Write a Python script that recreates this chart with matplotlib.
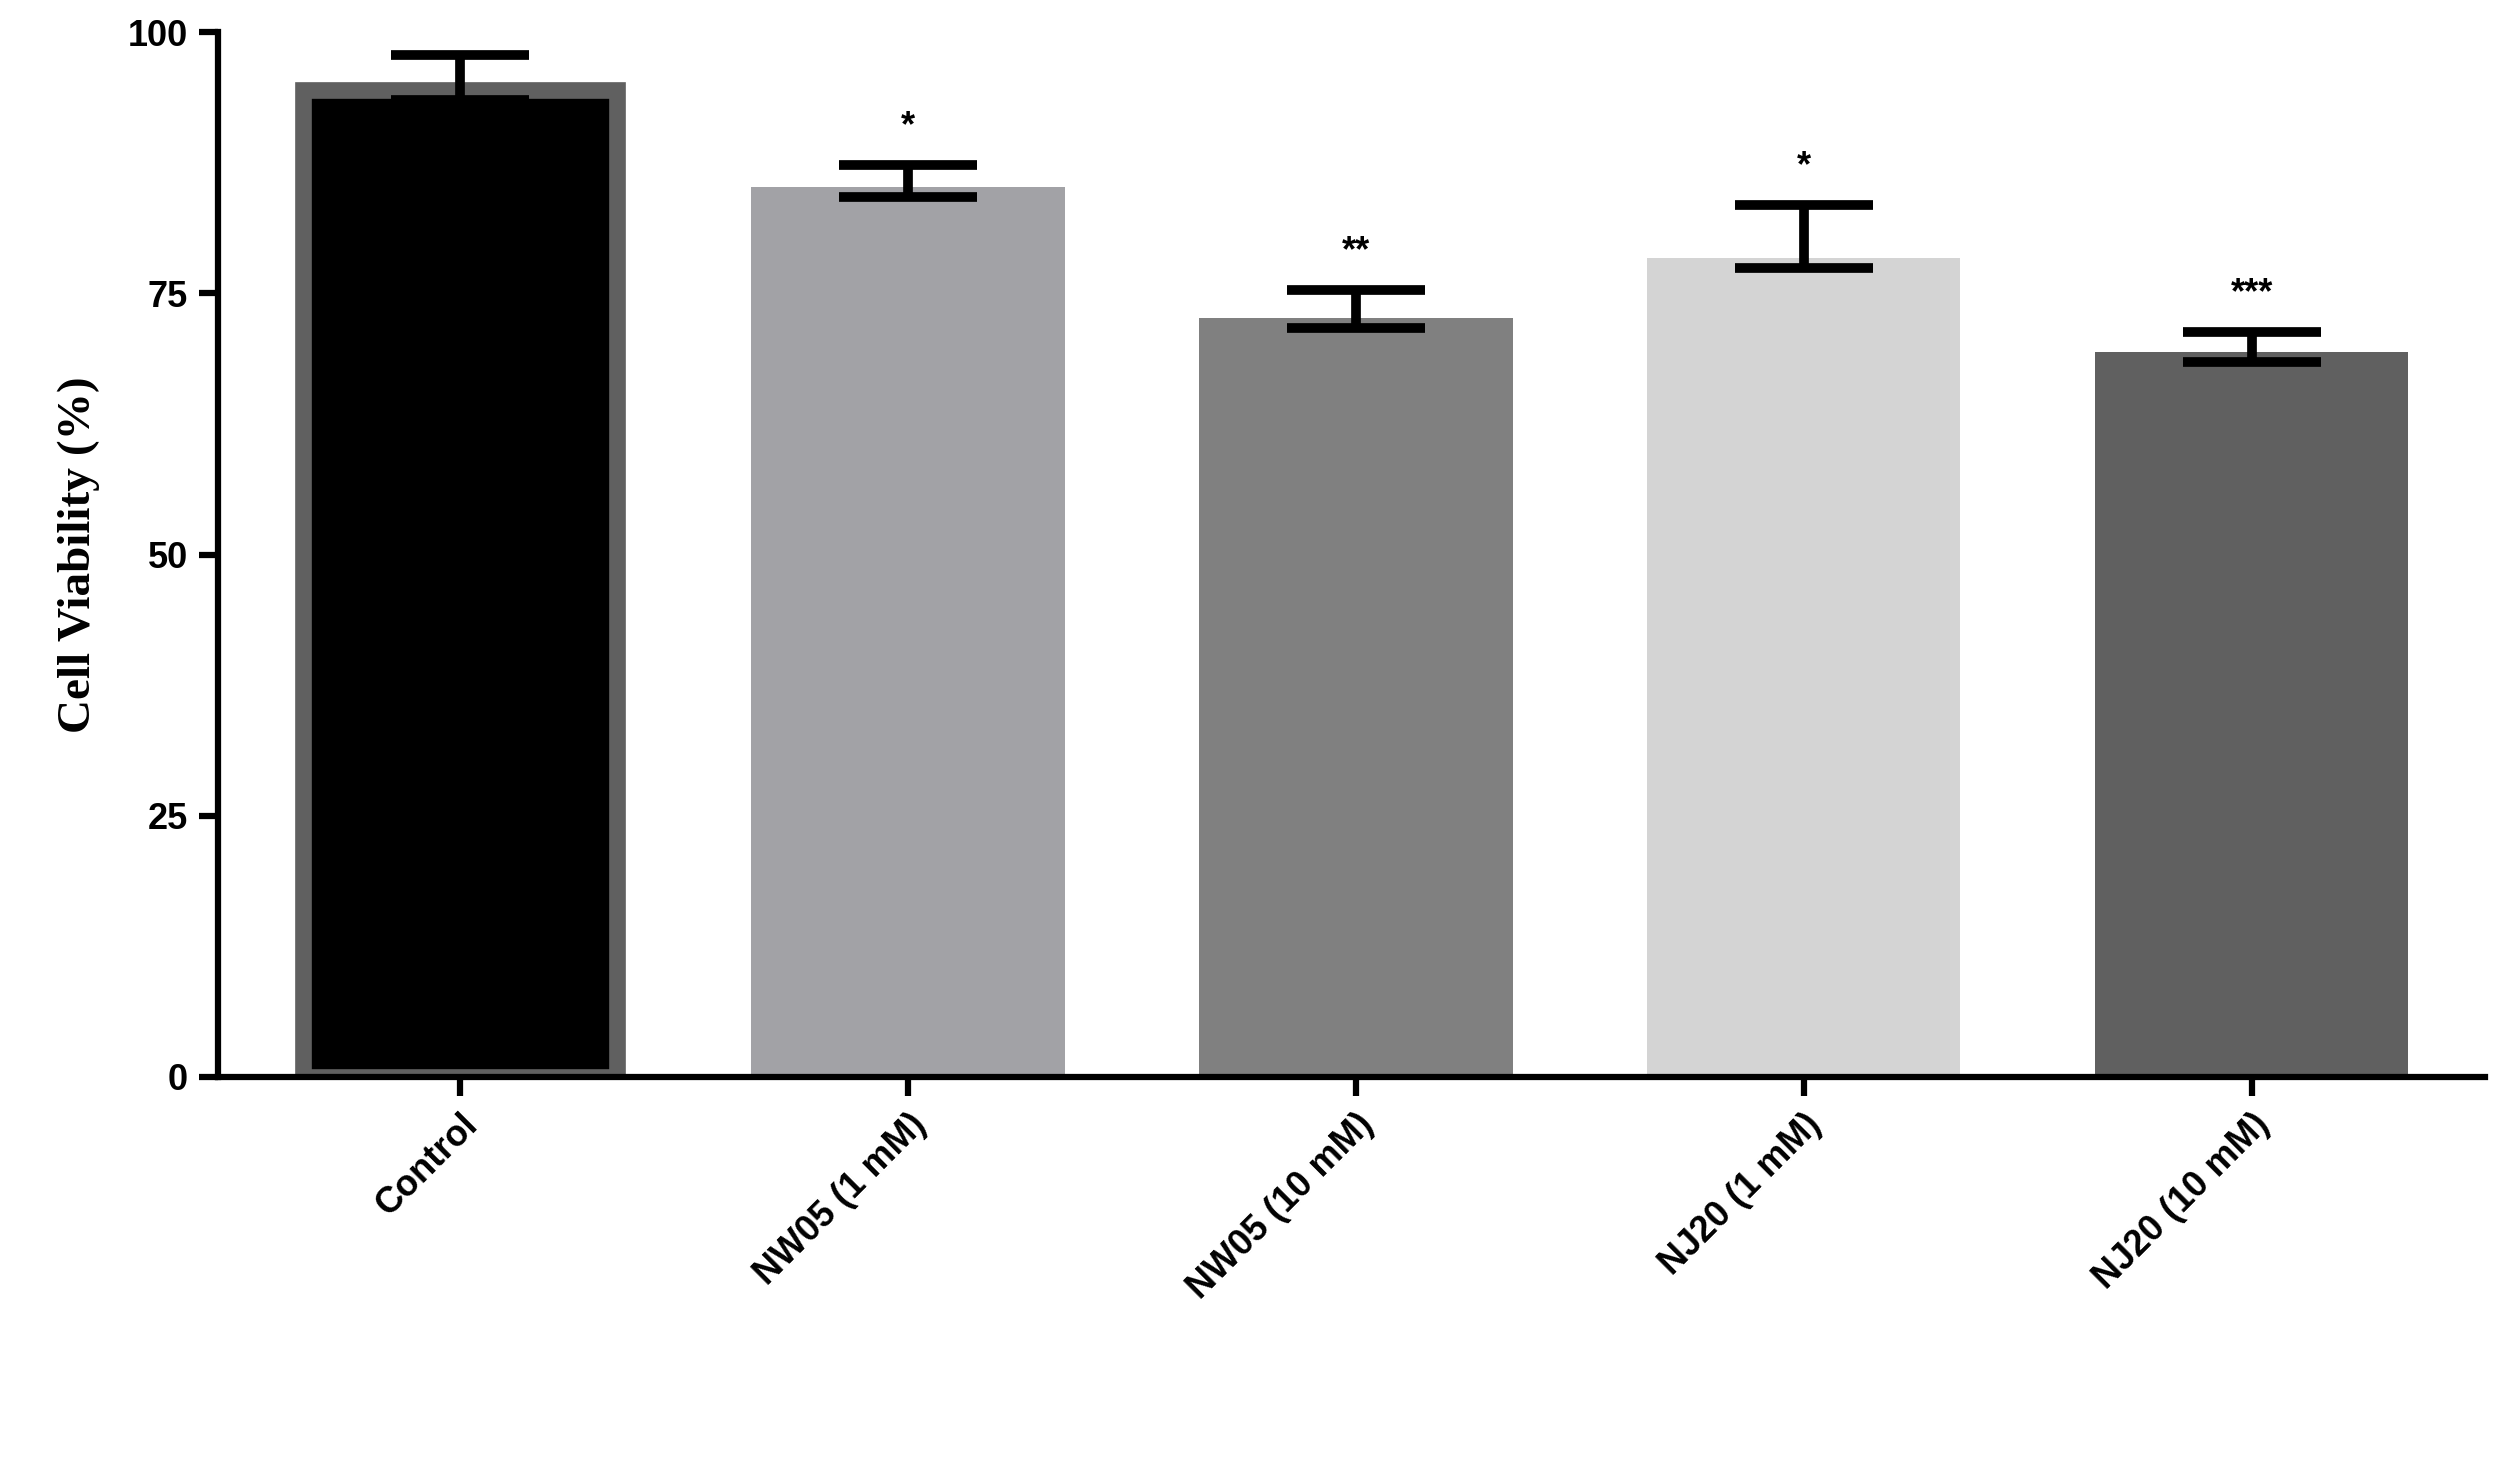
import matplotlib
matplotlib.use("Agg")
import matplotlib.pyplot as plt

# ---------------------------------------------------------------------------
# Data
# ---------------------------------------------------------------------------
groups = ["Control", "NW05 (1 mM)", "NW05 (10 mM)", "NJ20 (1 mM)", "NJ20 (10 mM)"]
viability = [94.5, 85.2, 72.7, 78.4, 69.4]
sem = [3.3, 2.1, 2.6, 5.1, 1.9]
stars = ["", "*", "**", "*", "***"]
colors = ["#000000", "#a2a2a6", "#808080", "#d4d4d4", "#606060"]
edges = ["#606060", "#a2a2a6", "#808080", "#d4d4d4", "#606060"]

fig = plt.figure(figsize=(24.97, 14.73), dpi=100)
ax = fig.add_axes([0.0874, 0.269, 0.9076, 0.709])

x = list(range(len(groups)))
ax.bar(x, viability, width=0.70, color=colors, edgecolor=edges,
       linewidth=[12, 0, 0, 0, 0], zorder=2)
ax.errorbar(x, viability, yerr=[[1.0] * len(sem), sem], fmt="none",
            ecolor="black", elinewidth=7, capsize=50, capthick=7, zorder=3)
for xi, v, s, st in zip(x, viability, sem, stars):
    if st:
        ax.text(xi, v + s + 2.0, st, ha="center", va="bottom",
                fontsize=26, fontweight="bold", family="Liberation Sans")

ax.set_xlim(-0.54, 4.52)
ax.set_ylim(0, 100)
ax.set_yticks([0, 25, 50, 75, 100])
ax.set_xticks(x)
ax.set_xticklabels(groups, rotation=45, ha="right", rotation_mode="anchor",
                   fontsize=26, fontweight="bold", family="Liberation Sans")
for lab in ax.get_yticklabels():
    lab.set_fontsize(26)
    lab.set_fontweight("bold")
    lab.set_family("Liberation Sans")
ax.set_ylabel("Cell Viability (%)", fontsize=34, fontweight="bold",
              family="Liberation Serif", labelpad=20)

for side in ["top", "right"]:
    ax.spines[side].set_visible(False)
for side in ["left", "bottom"]:
    ax.spines[side].set_linewidth(4.5)
ax.tick_params(axis="both", width=4.5, length=14, direction="out", pad=8)

fig.savefig("out.png", dpi=100)
